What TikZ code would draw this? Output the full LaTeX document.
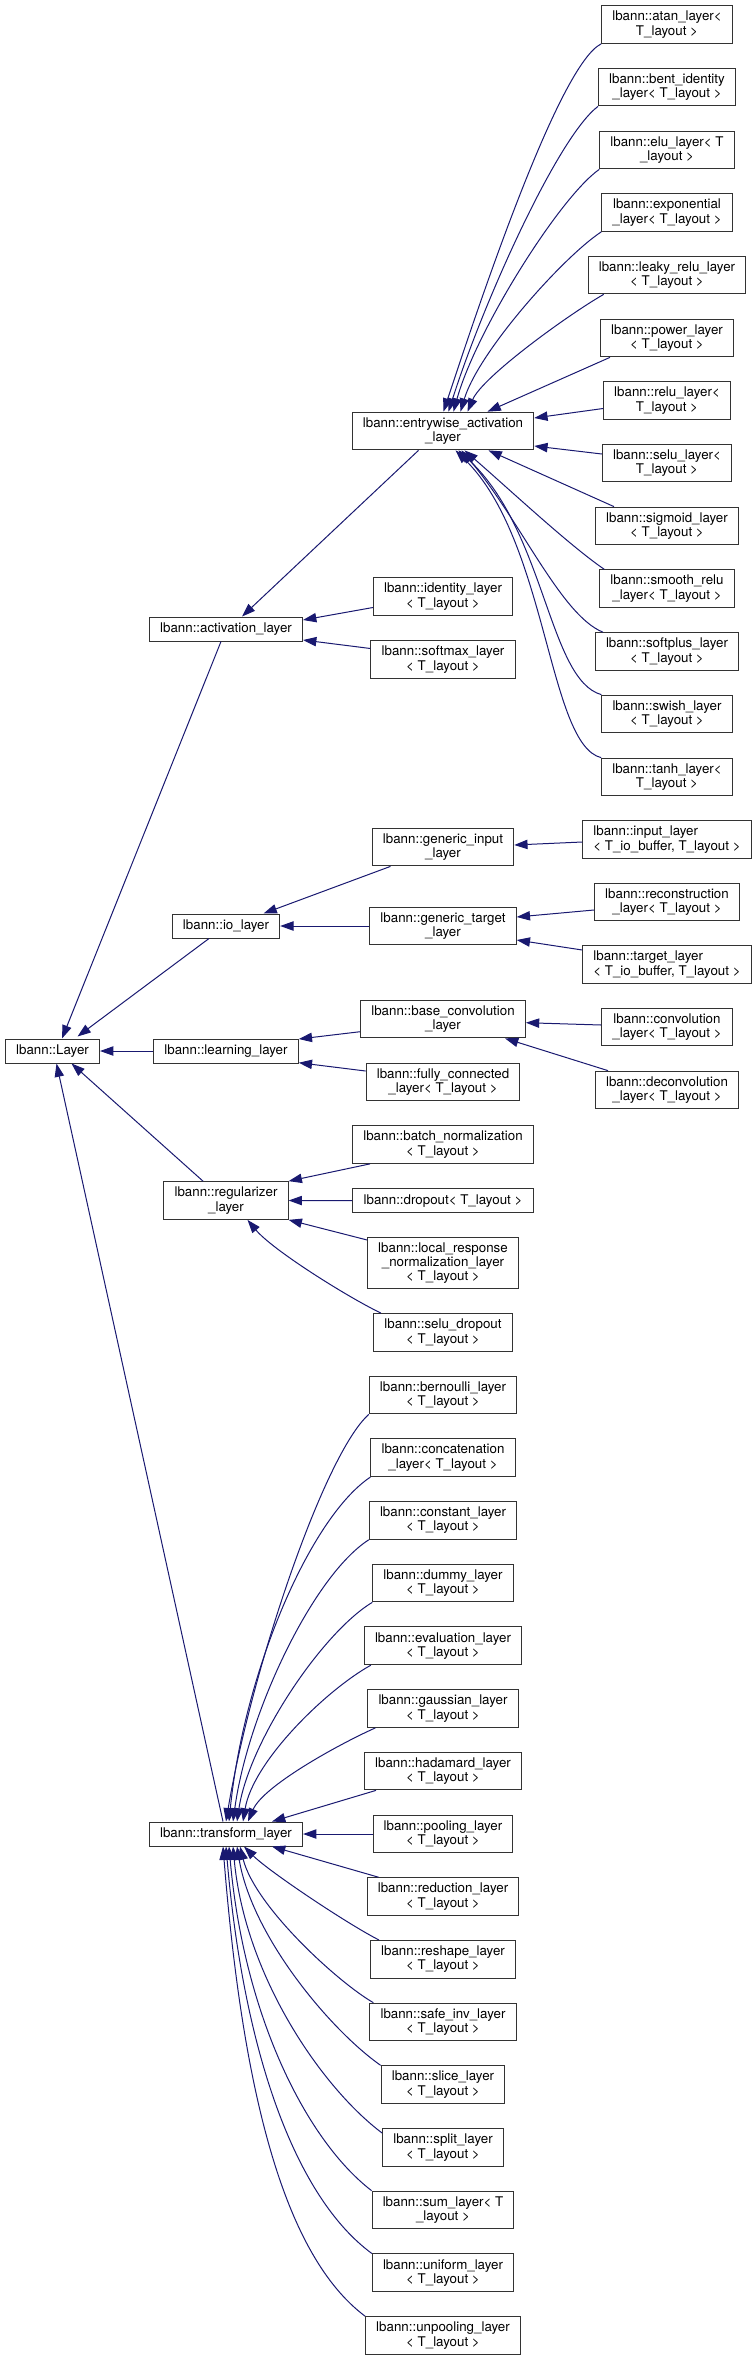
\documentclass[tikz,border=0pt]{standalone}
\usepackage{fontspec}
\setmainfont{TeX Gyre Heros}
\usetikzlibrary{arrows.meta,calc}
\definecolor{edgeblue}{HTML}{191970}
\newcommand{\boxfont}{\fontsize{10}{10.75}\selectfont}
\tikzset{
  cls/.style={draw=black!80, line width=0.75pt, fill=white, inner xsep=8pt, inner ysep=1pt,
    minimum height=18pt, align=center, font=\boxfont},
  two/.style={cls, minimum height=28.3pt},
  three/.style={cls, minimum height=38.3pt},
  inh/.style={draw=edgeblue, line width=0.75pt, -{Triangle[length=10pt,width=7pt]}}
}
\begin{document}
\begin{tikzpicture}[x=0.75pt, y=-0.75pt]
    \useasboundingbox (0,0) rectangle (754,2360);
    % root and first level
    \node[cls] (layer) at (52.5,1051) {lbann::Layer};
    \node[cls] (act) at (226,629) {lbann::activation\_layer};
    \node[cls] (io) at (226,926) {lbann::io\_layer};
    \node[cls] (learn) at (226,1051) {lbann::learning\_layer};
    \node[two] (reg) at (226,1200.5) {lbann::regularizer\\\_layer};
    \node[cls] (trans) at (226,1834) {lbann::transform\_layer};

    % second level
    \node[two] (entry) at (443,431) {lbann::entrywise\_activation\\\_layer};
    \node[two] (ident) at (443,596.5) {lbann::identity\_layer\\< T\_layout >};
    \node[two] (softmax) at (443,659.5) {lbann::softmax\_layer\\< T\_layout >};
    \node[two] (ginput) at (443,847) {lbann::generic\_input\\\_layer};
    \node[two] (gtarget) at (443,926) {lbann::generic\_target\\\_layer};
    \node[two] (bconv) at (443,1019) {lbann::base\_convolution\\\_layer};
    \node[two] (fully) at (443,1082) {lbann::fully\_connected\\\_layer< T\_layout >};
    \node[two] (batch) at (443,1144.5) {lbann::batch\_normalization\\< T\_layout >};
    \node[cls] (dropout) at (443,1200.7) {lbann::dropout< T\_layout >};
    \node[three] (lrn) at (443,1263) {lbann::local\_response\\\_normalization\_layer\\< T\_layout >};
    \node[two] (seludrop) at (443,1332.5) {lbann::selu\_dropout\\< T\_layout >};
    \node[two] (bern) at (443,1395) {lbann::bernoulli\_layer\\< T\_layout >};
    \node[two] (concat) at (443,1457.7) {lbann::concatenation\\\_layer< T\_layout >};
    \node[two] (const) at (443,1520.4) {lbann::constant\_layer\\< T\_layout >};
    \node[two] (dummy) at (443,1583) {lbann::dummy\_layer\\< T\_layout >};
    \node[two] (eval) at (443,1645.8) {lbann::evaluation\_layer\\< T\_layout >};
    \node[two] (gauss) at (443,1708.5) {lbann::gaussian\_layer\\< T\_layout >};
    \node[two] (hada) at (443,1771) {lbann::hadamard\_layer\\< T\_layout >};
    \node[two] (pool) at (443,1834) {lbann::pooling\_layer\\< T\_layout >};
    \node[two] (reduc) at (443,1896.6) {lbann::reduction\_layer\\< T\_layout >};
    \node[two] (reshape) at (443,1959.3) {lbann::reshape\_layer\\< T\_layout >};
    \node[two] (safeinv) at (443,2022) {lbann::safe\_inv\_layer\\< T\_layout >};
    \node[two] (slice) at (443,2084.7) {lbann::slice\_layer\\< T\_layout >};
    \node[two] (split) at (443,2147.4) {lbann::split\_layer\\< T\_layout >};
    \node[two] (sum) at (443,2210) {lbann::sum\_layer< T\\\_layout >};
    \node[two] (uniform) at (443,2272.8) {lbann::uniform\_layer\\< T\_layout >};
    \node[two] (unpool) at (443,2335.5) {lbann::unpooling\_layer\\< T\_layout >};

    % third level
    \node[two] (atan) at (667,24.5) {lbann::atan\_layer<\\T\_layout >};
    \node[two] (bent) at (667,87) {lbann::bent\_identity\\\_layer< T\_layout >};
    \node[two] (elu) at (667,150) {lbann::elu\_layer< T\\\_layout >};
    \node[two] (expo) at (667,212.5) {lbann::exponential\\\_layer< T\_layout >};
    \node[two] (leaky) at (667,275) {lbann::leaky\_relu\_layer\\< T\_layout >};
    \node[two] (power) at (667,338) {lbann::power\_layer\\< T\_layout >};
    \node[two] (relu) at (667,400.5) {lbann::relu\_layer<\\T\_layout >};
    \node[two] (selu) at (667,463) {lbann::selu\_layer<\\T\_layout >};
    \node[two] (sigm) at (667,526) {lbann::sigmoid\_layer\\< T\_layout >};
    \node[two] (smooth) at (667,588.7) {lbann::smooth\_relu\\\_layer< T\_layout >};
    \node[two] (softplus) at (667,651.5) {lbann::softplus\_layer\\< T\_layout >};
    \node[two] (swish) at (667,714) {lbann::swish\_layer\\< T\_layout >};
    \node[two] (tanh) at (667,777) {lbann::tanh\_layer<\\T\_layout >};
    \node[two, align=left] (input) at (667,839.5) {lbann::input\_layer\\< T\_io\_buffer, T\_layout >};
    \node[two] (recon) at (667,902) {lbann::reconstruction\\\_layer< T\_layout >};
    \node[two, align=left] (target) at (667,964.5) {lbann::target\_layer\\< T\_io\_buffer, T\_layout >};
    \node[two] (conv) at (667,1027) {lbann::convolution\\\_layer< T\_layout >};
    \node[two] (deconv) at (667,1090) {lbann::deconvolution\\\_layer< T\_layout >};

    % activation branch
    \draw[inh] (atan.south west) .. controls +(-42,21) and +(37,-112) .. ($(entry.north)+(0.5,0)$);
    \draw[inh] (bent.south west) .. controls +(-40,30) and +(35,-110) .. ($(entry.north)+(5.5,0)$);
    \draw[inh] (elu.south west) .. controls +(-40,28) and +(22,-80) .. ($(entry.north)+(10.5,0)$);
    \draw[inh] (expo.south west) .. controls +(-38,25) and +(18,-60) .. ($(entry.north)+(17.5,0)$);
    \draw[inh] ($(leaky.south west)+(16,0)$) .. controls +(-35,20) and +(15,-35) .. ($(entry.north)+(24.5,0)$);
    \draw[inh] ($(power.south west)+(10,0)$) -- ($(entry.north)+(44.5,0)$);
    \draw[inh] ($(relu.west)+(0,8)$) -- ($(entry.east)+(0,-13)$);
    \draw[inh] ($(selu.west)+(0,-9)$) -- ($(entry.east)+(0,15)$);
    \draw[inh] ($(sigm.north west)+(19,0)$) -- ($(entry.south)+(45.5,0)$);
    \draw[inh] ($(smooth.north west)+(5,0)$) .. controls +(-35,-24) and +(46,40) .. ($(entry.south)+(21.5,0)$);
    \draw[inh] ($(softplus.north west)+(8,0)$) .. controls +(-42,-17) and +(59,70) .. ($(entry.south)+(18.5,0)$);
    \draw[inh] (swish.north west) .. controls +(-53,-15) and +(87,80) .. ($(entry.south)+(15.5,0)$);
    \draw[inh] (tanh.north west) .. controls +(-53,-13) and +(92,90) .. ($(entry.south)+(12.5,0)$);
    \draw[inh] ($(entry.south)+(-24.5,0)$) -- ($(act.north)+(16,0)$);
    \draw[inh] ($(ident.west)+(0,11)$) -- ($(act.east)+(0,-9)$);
    \draw[inh] ($(softmax.west)+(0,-11)$) -- ($(act.east)+(0,11)$);
    \draw[inh] ($(act.south)+(-5,0)$) -- ($(layer.north)+(9.5,0)$);

    % io branch
    \draw[inh] ($(ginput.south)+(-52.5,0)$) -- ($(io.north)+(37.5,0)$);
    \draw[inh] (gtarget.west) -- (io.east);
    \draw[inh] ($(input.west)+(0,2.5)$) -- ($(ginput.east)+(0,-2)$);
    \draw[inh] ($(recon.west)+(0,8)$) -- ($(gtarget.east)+(0,-9)$);
    \draw[inh] ($(target.west)+(0,-14.5)$) -- ($(gtarget.east)+(0,14)$);
    \draw[inh] ($(io.south)+(-17,0)$) -- ($(layer.north)+(25,-2)$);

    % learning branch
    \draw[inh] (learn.west) -- (layer.east);
    \draw[inh] ($(bconv.west)+(0,12.7)$) -- ($(learn.east)+(0,-12)$);
    \draw[inh] ($(fully.west)+(0,-11)$) -- ($(learn.east)+(0,11.7)$);
    \draw[inh] ($(conv.west)+(0,-2)$) -- ($(bconv.east)+(0,3.7)$);
    \draw[inh] ($(deconv.north)+(-59,0)$) -- ($(bconv.south)+(62,0)$);

    % regularizer branch
    \draw[inh] ($(reg.north)+(-23,0)$) -- ($(layer.south)+(19,0)$);
    \draw[inh] ($(batch.south)+(-73,0)$) -- (reg.north east);
    \draw[inh] (dropout.west) -- (reg.east);
    \draw[inh] ($(lrn.north west)+(0,3)$) -- (reg.south east);
    \draw[inh] ($(seludrop.north)+(-62,0)$) .. controls +(-35,-17) and +(25,30) .. ($(reg.south)+(21.5,0)$);

    % transform branch
    \draw[inh] ($(trans.north)+(-3,0)$) -- ($(layer.south)+(4,0)$);
    \draw[inh] (bern.south west) .. controls +(-45,40) and +(25,-150) .. (trans.north);
    \draw[inh] (concat.south west) .. controls +(-60,40) and +(15,-150) .. ($(trans.north)+(3,0)$);
    \draw[inh] (const.south west) .. controls +(-55,35) and +(15,-110) .. ($(trans.north)+(7,0)$);
    \draw[inh] (dummy.south west) .. controls +(-50,30) and +(12,-80) .. ($(trans.north)+(11,0)$);
    \draw[inh] ($(eval.south west)+(7,0)$) .. controls +(-45,25) and +(10,-60) .. ($(trans.north)+(17,0)$);
    \draw[inh] ($(gauss.south west)+(8,0)$) .. controls +(-40,18) and +(15,-35) .. ($(trans.north)+(22,0)$);
    \draw[inh] ($(hada.south west)+(12,0)$) -- ($(trans.north)+(46,0)$);
    \draw[inh] (pool.west) -- (trans.east);
    \draw[inh] ($(reduc.north west)+(12,0)$) -- ($(trans.south)+(46,0)$);
    \draw[inh] ($(reshape.north west)+(9,0)$) .. controls +(-30,-15) and +(25,25) .. ($(trans.south)+(18,0)$);
    \draw[inh] ($(safeinv.north west)+(4,0)$) .. controls +(-35,-20) and +(15,60) .. ($(trans.south)+(14,0)$);
    \draw[inh] (slice.north west) .. controls +(-50,-35) and +(15,90) .. ($(trans.south)+(11,0)$);
    \draw[inh] ($(split.north west)+(0,5)$) .. controls +(-60,-45) and +(12,130) .. ($(trans.south)+(7,0)$);
    \draw[inh] (sum.north west) .. controls +(-65,-50) and +(15,170) .. ($(trans.south)+(3,0)$);
    \draw[inh] (uniform.north west) .. controls +(-75,-55) and +(18,210) .. (trans.south);
    \draw[inh] (unpool.north west) .. controls +(-80,-60) and +(20,250) .. ($(trans.south)+(-3,0)$);
\end{tikzpicture}
\end{document}
